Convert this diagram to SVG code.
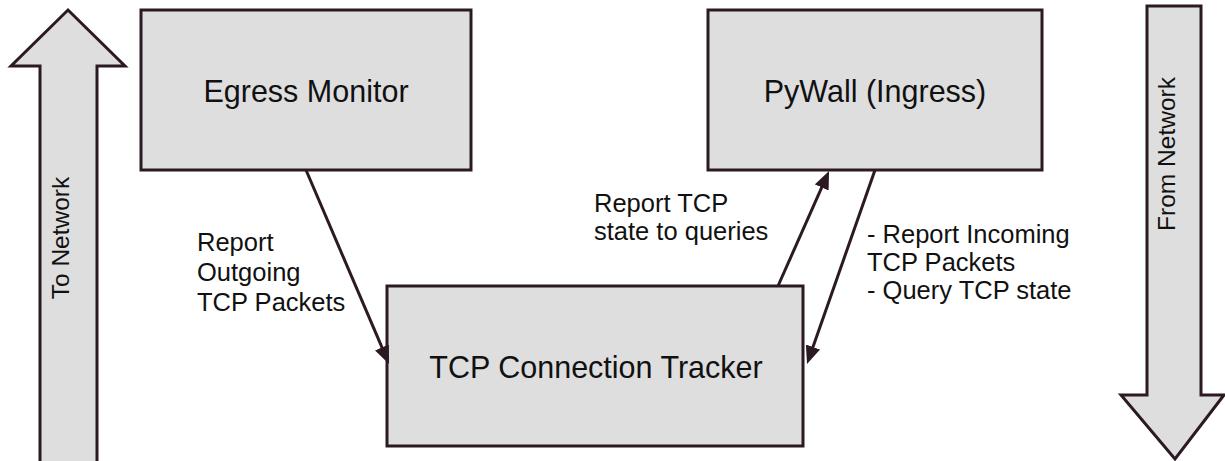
<svg xmlns="http://www.w3.org/2000/svg" width="1225" height="461" viewBox="0 0 1225 461">
  <style>
    .shape { fill: #dedede; stroke: #2b1a24; stroke-width: 3; stroke-linejoin: miter; }
    .box-text { font-family: "Liberation Sans", Arial, sans-serif; font-size: 30.5px; fill: #111; text-anchor: middle; }
    .label { font-family: "Liberation Sans", Arial, sans-serif; font-size: 25.5px; fill: #111; }
    .side { font-family: "Liberation Sans", Arial, sans-serif; font-size: 24.5px; fill: #111; text-anchor: middle; }
    .conn { stroke: #2b1a24; stroke-width: 3; fill: none; }
  </style>
  <defs>
    <marker id="ah" markerUnits="userSpaceOnUse" markerWidth="19" markerHeight="16" refX="9" refY="7.5" orient="auto">
      <path d="M0,0 L18,7.5 L0,15 z" fill="#2b1a24"/>
    </marker>
  </defs>
  <rect width="1225" height="461" fill="#ffffff"/>

  <g id="to-network">
    <polygon class="shape" points="68,10 125,66 97,66 97,463 40,463 40,66 11,66"/>
    <text class="side" transform="translate(69,238) rotate(-90)">To Network</text>
  </g>

  <g id="from-network">
    <polygon class="shape" points="1147,6 1201,6 1201,395 1224,395 1175,459 1121,395 1147,395"/>
    <text class="side" transform="translate(1175,154) rotate(-90)">From Network</text>
  </g>

  <g id="egress-monitor">
    <rect class="shape" x="141" y="10" width="330" height="160"/>
    <text class="box-text" x="306" y="102">Egress Monitor</text>
  </g>

  <g id="pywall">
    <rect class="shape" x="708" y="10" width="334" height="160"/>
    <text class="box-text" x="875" y="102">PyWall (Ingress)</text>
  </g>

  <g id="tracker">
    <rect class="shape" x="387" y="286" width="416" height="160"/>
    <text class="box-text" x="596" y="378">TCP Connection Tracker</text>
  </g>

  <g id="connectors">
    <line class="conn" x1="306" y1="170" x2="385.5" y2="355.7" marker-end="url(#ah)"/>
    <line class="conn" x1="778" y1="286" x2="825.4" y2="179.2" marker-end="url(#ah)"/>
    <line class="conn" x1="875" y1="170" x2="810" y2="355.5" marker-end="url(#ah)"/>
  </g>

  <g id="labels">
    <text class="label" x="197" y="251">Report</text>
    <text class="label" x="197" y="281">Outgoing</text>
    <text class="label" x="197" y="311">TCP Packets</text>

    <text class="label" x="594" y="212">Report TCP</text>
    <text class="label" x="594" y="240">state to queries</text>

    <text class="label" x="867" y="243">- Report Incoming</text>
    <text class="label" x="867" y="271">TCP Packets</text>
    <text class="label" x="867" y="299">- Query TCP state</text>
  </g>
</svg>
